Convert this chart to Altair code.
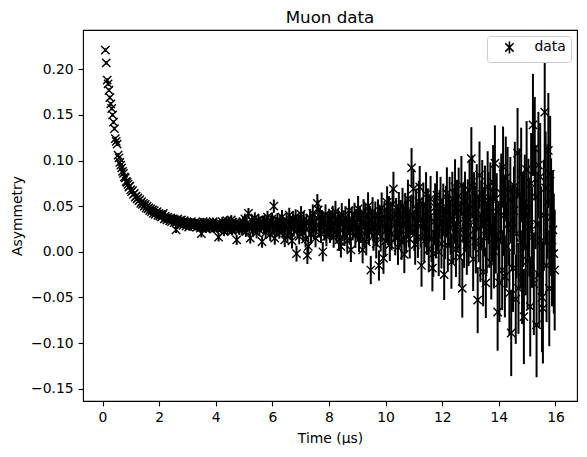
import altair as alt
import pandas as pd

# Time bins (microseconds): first bin centre and bin width
TIME_START = 0.1
TIME_STEP = 0.032

# Asymmetry values, in units of 1e-3, one row per 0.8 us
ASYM_MILLI = [
    221, 207, 188, 184, 177, 169, 162, 157, 150, 142, 135, 124, 121, 118, 106, 103, 98, 95, 92, 88, 86, 82, 81, 77, 76,
    74, 71, 72, 68, 66, 67, 63, 64, 60, 61, 58, 59, 56, 57, 53, 55, 52, 53, 50, 52, 48, 50, 47, 48, 45,
    47, 44, 46, 42, 45, 41, 43, 44, 40, 42, 39, 41, 38, 40, 42, 36, 39, 37, 35, 38, 36, 34, 37, 33, 36,
    36, 32, 35, 24, 33, 36, 31, 34, 30, 35, 32, 29, 34, 31, 28, 33, 31, 27, 32, 30, 33, 29, 31, 28, 32,
    30, 27, 32, 28, 31, 26, 20, 29, 33, 27, 30, 25, 31, 28, 32, 26, 29, 31, 27, 33, 25, 29, 30, 26, 28,
    16, 29, 31, 25, 33, 27, 22, 30, 28, 34, 24, 29, 31, 26, 35, 23, 28, 30, 25, 32, 13, 27, 31, 24, 29,
    30, 24, 33, 27, 36, 22, 31, 28, 42, 25, 15, 29, 34, 23, 31, 37, 26, 21, 30, 35, 24, 32, 28, 11, 33,
    27, 34, 21, 30, 38, 25, 29, 19, 33, 36, 26, 50, 15, 31, 24, 35, 28, 22, 33, 27, 38, 23, 30, 13, 29,
    34, 18, 27, 40, 22, 31, 12, 36, 25, 29, 38, -2, 24, 33, 17, 30, 41, 26, 21, 35, 28, 14, 32, -4, 6,
    28, 37, 19, 31, 42, 24, 33, 15, 29, 53, 46, 26, 38, 20, 35, 0, 30, 23, 41, 17, 32, 27, 36, 21, 34,
    25, 39, 16, 31, 44, 22, 28, 35, 13, 30, 6, 41, 24, 33, 19, 37, 27, 12, 32, 45, 21, 2, 36, 26, 30,
    40, 18, 33, 27, 47, 14, 36, 24, 30, 2, 43, 20, 38, 11, 29, 50, 23, 35, -20, 31, 44, 17, 26, 39, 9,
    22, 41, -15, 34, 17, 48, 28, -7, 38, 12, 31, 54, 25, 43, 8, 36, 20, 52, 69, 29, 15, 40, 33, 5, 46,
    24, 37, 11, 50, 30, -3, 44, 19, 35, 58, 26, 14, 40, 92, 40, 69, 23, 8, 47, 32, 16, 55, 71, 28, -15,
    36, 52, 12, 29, 63, 21, 45, 3, 38, 58, 14, -18, -2, 33, 49, 19, 62, 27, 0, 41, 55, 9, 31, 47, -25,
    20, 44, 64, 7, 35, 53, 26, -11, 58, 17, 39, 71, 3, 48, 30, 61, -6, 24, 73, -40, 42, 15, 55, 33, 8,
    46, 18, 67, 29, 102, 71, -8, 52, 37, 12, 60, -53, 25, 84, 4, 41, 63, -22, 33, 56, -34, 15, 71, 48, 22,
    58, -12, 30, 76, 1, 97, 18, 44, -66, 13, -34, 52, 64, -20, 93, 40, -27, 81, 6, 69, 31, -45, 57, -89, 26,
    -18, 45, 72, -52, 20, 108, -40, 63, 10, 85, -28, 35, -71, 54, 5, 90, -10, 48, 27, -60, 75, 16, 139, -35, 113,
    60, -80, 30, 95, -25, 82, 12, -50, -62, 40, 153, 70, -15, 55, 111, -40, 85, 38, 5, 24, -2, -20,
]

# Error bar half-lengths, in units of 1e-3
ERR_MILLI = [
    1.9, 1.9, 2.0, 2.0, 2.0, 2.0, 2.0, 2.0, 2.0, 2.1, 2.1, 2.1, 2.1, 2.1, 2.1, 2.1, 2.2, 2.2, 2.2, 2.2, 2.2, 2.2, 2.3, 2.3, 2.3,
    2.3, 2.3, 2.4, 2.4, 2.4, 2.4, 2.4, 2.4, 2.5, 2.5, 2.5, 2.5, 2.5, 2.5, 2.6, 2.6, 2.6, 2.6, 2.6, 2.7, 2.7, 2.7, 2.7, 2.7, 2.7,
    2.8, 2.8, 2.8, 2.8, 2.9, 2.9, 2.9, 2.9, 2.9, 3.0, 3.0, 3.0, 3.0, 3.0, 3.1, 3.1, 3.1, 3.1, 3.1, 3.2, 3.2, 3.2, 3.2, 3.3, 3.3,
    3.3, 3.3, 3.4, 3.4, 3.4, 3.4, 3.5, 3.5, 3.5, 3.5, 3.6, 3.6, 3.6, 3.6, 3.7, 3.7, 3.7, 3.7, 3.8, 3.8, 3.8, 3.8, 3.9, 3.9, 3.9,
    4.0, 4.0, 4.0, 4.1, 4.1, 4.1, 4.2, 4.2, 4.2, 4.3, 4.3, 4.3, 4.3, 4.4, 4.4, 4.4, 4.5, 4.5, 4.5, 4.5, 4.6, 4.6, 4.6, 4.7, 4.7,
    4.7, 4.8, 4.8, 4.8, 4.9, 4.9, 4.9, 5.0, 5.0, 5.0, 5.1, 5.1, 5.1, 5.2, 5.2, 5.2, 5.3, 5.3, 5.3, 5.4, 5.4, 5.4, 5.5, 5.5, 5.6,
    5.6, 5.7, 5.7, 5.8, 5.8, 5.8, 5.9, 5.9, 6.0, 6.0, 6.0, 6.1, 6.1, 6.2, 6.2, 6.2, 6.3, 6.3, 6.4, 6.4, 6.5, 6.5, 6.5, 6.6, 6.7,
    6.7, 6.8, 6.8, 6.9, 6.9, 7.0, 7.0, 7.1, 7.1, 7.2, 7.2, 7.3, 7.3, 7.4, 7.4, 7.5, 7.5, 7.6, 7.6, 7.7, 7.7, 7.8, 7.8, 7.9, 8.0,
    8.0, 8.1, 8.1, 8.2, 8.3, 8.3, 8.4, 8.4, 8.5, 8.5, 8.6, 8.7, 8.7, 8.8, 8.8, 8.9, 9.0, 9.0, 9.1, 9.2, 9.2, 9.3, 9.3, 9.4, 9.5,
    9.6, 9.7, 9.7, 9.8, 9.9, 9.9, 10.0, 10.1, 10.1, 10.2, 10.3, 10.4, 10.4, 10.5, 10.6, 10.6, 10.7, 10.8, 10.9, 10.9, 11.0, 11.1, 11.2, 11.3, 11.4,
    11.5, 11.5, 11.6, 11.7, 11.8, 11.9, 12.0, 12.0, 12.1, 12.2, 12.3, 12.4, 12.5, 12.5, 12.6, 12.7, 12.8, 12.9, 13.0, 13.1, 13.2, 13.3, 13.4, 13.5, 13.6,
    13.7, 13.8, 13.9, 14.0, 14.1, 14.2, 14.3, 14.4, 14.5, 14.6, 14.7, 14.8, 14.9, 15.0, 15.1, 15.2, 15.3, 15.4, 15.5, 15.6, 15.8, 15.9, 16.0, 16.1, 16.3,
    16.4, 16.5, 16.6, 16.8, 16.9, 17.0, 17.1, 17.2, 17.4, 17.5, 17.6, 17.7, 17.9, 18.0, 18.1, 18.3, 18.4, 18.5, 18.7, 18.8, 18.9, 19.1, 19.2, 19.4, 19.5,
    19.6, 19.8, 19.9, 20.1, 20.2, 20.4, 20.5, 20.7, 20.8, 21.0, 21.1, 21.3, 21.4, 21.6, 21.7, 21.9, 22.0, 22.2, 22.4, 22.5, 22.7, 22.8, 23.0, 23.2, 23.3,
    23.5, 23.7, 23.8, 24.0, 24.2, 24.4, 24.5, 24.7, 24.9, 25.1, 25.2, 25.4, 25.6, 25.8, 26.0, 26.2, 26.3, 26.5, 26.7, 26.9, 27.1, 27.3, 27.5, 27.7, 27.9,
    28.1, 28.3, 28.5, 28.7, 28.9, 29.1, 29.3, 29.5, 29.7, 29.9, 30.1, 30.4, 30.6, 30.8, 31.0, 31.2, 31.5, 31.7, 31.9, 32.1, 32.4, 32.6, 32.8, 33.1, 33.3,
    33.5, 33.8, 34.0, 34.3, 34.5, 34.7, 35.0, 35.2, 35.5, 35.7, 36.0, 36.2, 36.5, 36.8, 37.0, 37.3, 37.5, 37.8, 38.1, 38.4, 38.6, 38.9, 39.2, 39.5, 39.7,
    40.0, 40.3, 40.6, 40.9, 41.2, 41.5, 41.8, 42.1, 42.4, 42.7, 43.0, 43.3, 43.6, 43.9, 44.2, 44.5, 44.9, 45.2, 45.5, 45.8, 46.2, 46.5, 46.8, 47.2, 47.5,
    47.9, 48.2, 48.5, 48.9, 49.2, 49.6, 49.9, 50.3, 50.6, 51.0, 51.3, 51.7, 52.1, 52.4, 52.8, 53.2, 53.6, 53.9, 54.3, 54.7, 55.1, 55.5, 55.9, 56.3, 56.7,
    57.1, 57.5, 57.9, 58.3, 58.7, 59.1, 59.6, 60.0, 60.4, 60.8, 61.3, 61.7, 62.1, 62.6, 63.0, 63.5, 63.9, 64.4, 64.8, 65.3, 65.8, 66.2,
]

SERIES_NAME = "data"
X_TICKS = [0, 2, 4, 6, 8, 10, 12, 14, 16]
Y_TICKS = [-0.15, -0.10, -0.05, 0.00, 0.05, 0.10, 0.15, 0.20]

n = len(ASYM_MILLI)
times = [round(TIME_START + TIME_STEP * i, 4) for i in range(n)]
asym = [v / 1000.0 for v in ASYM_MILLI]
err = [e / 1000.0 for e in ERR_MILLI]
df = pd.DataFrame({
    "t": times,
    "y": asym,
    "lo": [a - e for a, e in zip(asym, err)],
    "hi": [a + e for a, e in zip(asym, err)],
    "series": [SERIES_NAME] * n,
})

FONT = "DejaVu Sans"
X_PATH = "M-1,-1L1,1M-1,1L1,-1"
LEGEND_PATH = "M-1,-1L1,1M-1,1L1,-1M0,-1.45L0,1.45"

x_scale = alt.Scale(domain=[-0.69, 16.76], nice=False, zero=False)
y_scale = alt.Scale(domain=[-0.1635, 0.243], nice=False, zero=False)
x_axis = alt.Axis(values=X_TICKS, format="d", title="Time (μs)", titlePadding=7)
y_axis = alt.Axis(values=Y_TICKS, format=".2f", title="Asymmetry", titlePadding=6)

x_enc = alt.X("t:Q", scale=x_scale, axis=x_axis)
y_enc = alt.Y("y:Q", scale=y_scale, axis=y_axis)

bars = alt.Chart(df).mark_rule(color="black", strokeWidth=2.0).encode(
    x=x_enc,
    y=alt.Y("lo:Q", scale=y_scale, axis=y_axis),
    y2="hi:Q",
)

points = alt.Chart(df).mark_point(
    shape=X_PATH, filled=False, color="black", strokeWidth=1.4, size=69, opacity=1
).encode(x=x_enc, y=y_enc)

legend_layer = alt.Chart(df).transform_filter("datum.t < 0").mark_point(
    filled=False, color="black", strokeWidth=1.5, size=69, opacity=1
).encode(
    x=x_enc,
    y=y_enc,
    shape=alt.Shape(
        "series:N",
        scale=alt.Scale(domain=[SERIES_NAME], range=[LEGEND_PATH]),
        legend=alt.Legend(
            title=None,
            orient="top-right",
            offset=6,
            padding=4.5,
            cornerRadius=3,
            strokeColor="#cccccc",
            fillColor="white",
            labelFont=FONT,
            labelFontSize=13.9,
            labelColor="black",
            symbolSize=69,
            symbolStrokeWidth=1.6,
            symbolStrokeColor="black",
            symbolFillColor="transparent",
            symbolOffset=11,
            labelOffset=18,
        ),
    ),
)

chart = alt.layer(points, bars, legend_layer).properties(
    width=494,
    height=371,
    padding={"left": 75, "top": 22, "right": 2, "bottom": 44},
    autosize=alt.AutoSizeParams(type="none"),
    title=alt.TitleParams(
        text="Muon data", font=FONT, fontSize=16.7, fontWeight="normal",
        color="black", anchor="middle", offset=8.5, baseline="alphabetic", dy=18.5,
    ),
).configure_view(
    stroke="black", strokeWidth=1.1
).configure_axis(
    grid=False,
    domain=False,
    labelFont=FONT,
    labelFontSize=13.9,
    labelColor="black",
    titleFont=FONT,
    titleFontSize=13.9,
    titleFontWeight="normal",
    titleColor="black",
    tickColor="black",
    tickWidth=1.1,
    tickSize=4.9,
    labelPadding=4.9,
    labelFlush=False,
    labelOverlap=False,
)

chart.save("out.html", embed_options={"renderer": "svg", "actions": False})
